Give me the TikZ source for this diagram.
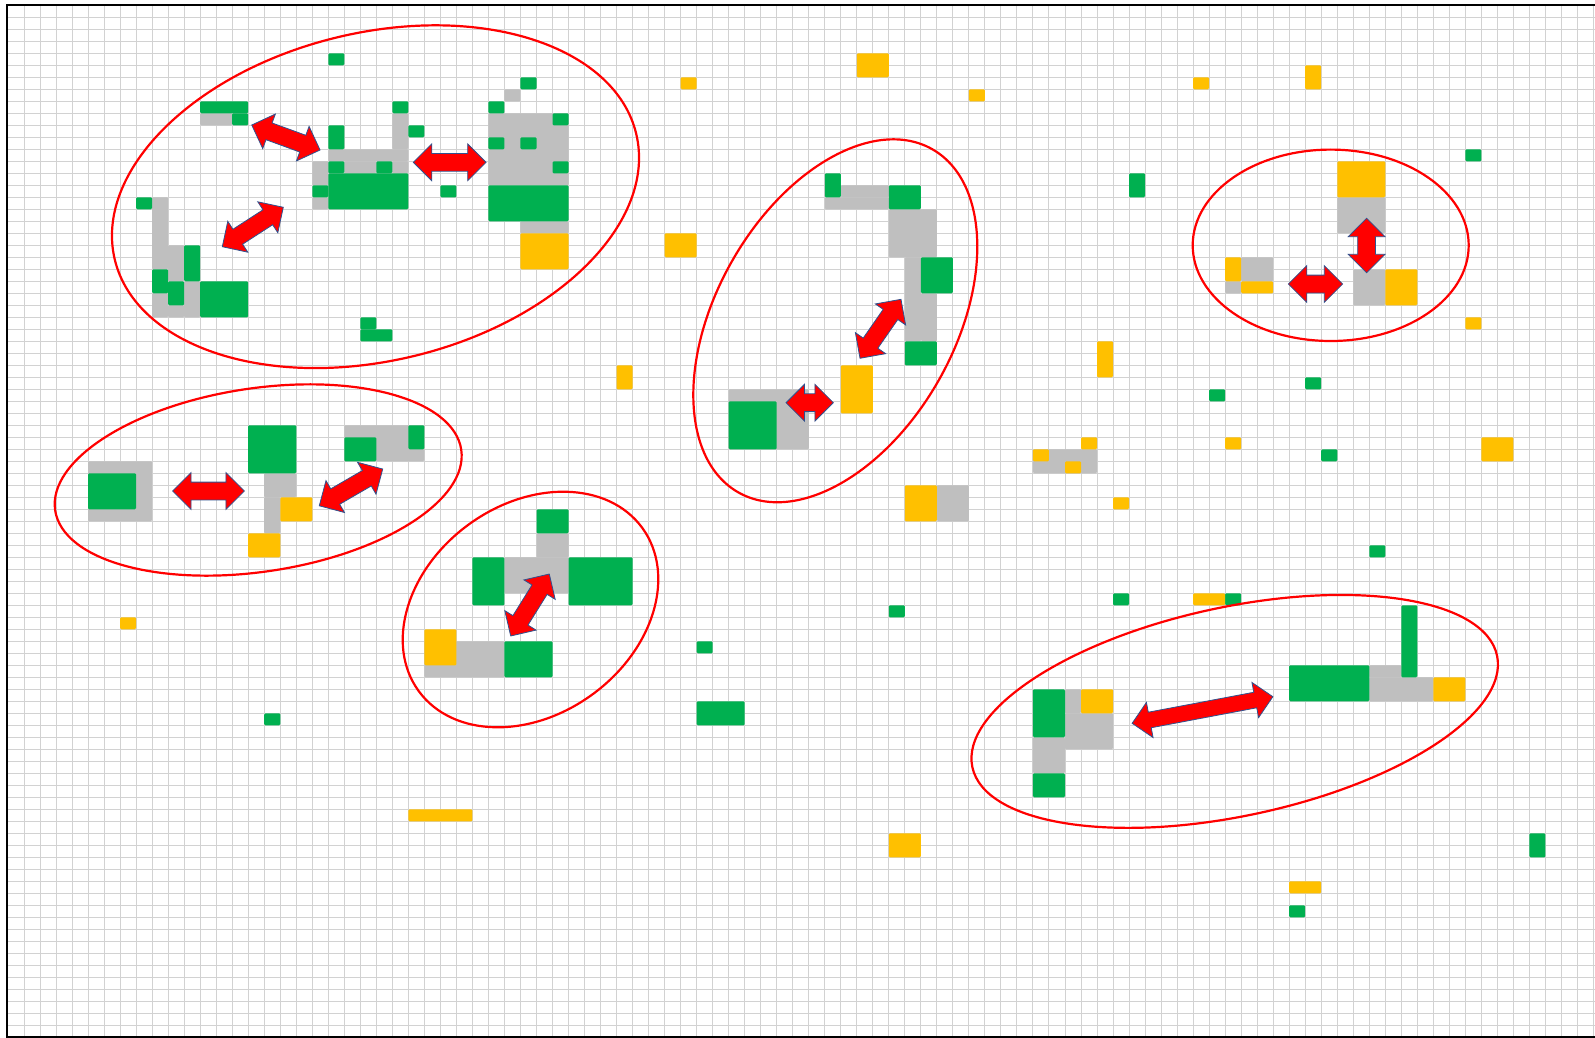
\documentclass[tikz,border=0pt]{standalone}
\usetikzlibrary{shapes.arrows, shapes.geometric}

\definecolor{cellgreen}{RGB}{0,176,80}
\definecolor{cellyellow}{RGB}{255,192,0}
\definecolor{cellgray}{RGB}{191,191,191}
\definecolor{gridc}{RGB}{210,210,210}
\definecolor{ringred}{RGB}{255,0,0}
\definecolor{arrowedge}{RGB}{47,82,143}

\begin{document}
\begin{tikzpicture}[x=1pt, y=-1pt,
        gridline/.style={draw=gridc, line width=1pt},
        gry/.style={fill=cellgray, rounded corners=1.2pt},
        grn/.style={fill=cellgreen, rounded corners=1.2pt},
        ylw/.style={fill=cellyellow, rounded corners=1.2pt},
        ring/.style={ellipse, draw=ringred, line width=2.2pt, inner sep=0pt},
        twoway/.style={double arrow, fill=red, draw=arrowedge, line width=0.8pt,
                       inner xsep=0pt, inner ysep=8.5pt,
                       double arrow head extend=9.5pt, minimum width=36pt},
    ]
    \useasboundingbox (0,0) rectangle (1595,1038);

    % grid
    \foreach \c in {1,...,99}
        \draw[gridline] ({8+16.015*\c},5.3) -- ({8+16.015*\c},1037.3);
    \foreach \r in {1,...,85}
        \draw[gridline] (8,{5.3+12*\r}) -- (1595,{5.3+12*\r});

    % gray cells (col/row/width/height)
    \foreach \c/\r/\w/\h in {12/9/2/1, 9/16/1/6, 10/20/1/3, 11/23/1/3, 9/24/1/2, 10/25/1/1,
            24/9/1/3, 20/12/5/1, 19/13/1/2, 21/13/2/1, 24/13/1/1, 19/16/1/1,
            31/7/1/1, 30/9/5/6, 32/18/3/1,
            5/38/4/5, 16/39/2/2, 16/41/1/3, 21/35/5/3,
            33/44/2/2, 31/46/4/3, 26/53/5/3,
            52/15/3/1, 51/16/4/1, 55/17/3/4, 56/21/1/7, 57/24/1/4, 45/32/5/5, 58/40/2/3,
            83/16/3/3, 84/22/2/3, 77/21/2/2, 76/23/1/1, 64/37/4/2,
            85/55/2/1, 85/56/4/2, 66/57/1/2, 66/59/3/3, 64/61/2/3}
        \fill[gry] ({8+16.015*\c},{5.3+12*\r}) rectangle ++({16.015*\w},{12*\h});

    % green cells
    \foreach \c/\r/\w/\h in {12/8/3/1, 14/9/1/1, 8/16/1/1, 11/20/1/3, 9/22/1/2, 10/23/1/2, 12/23/3/3,
            20/4/1/1, 20/10/1/2, 24/8/1/1, 25/10/1/1, 20/13/1/1, 23/13/1/1, 20/14/5/3, 19/15/1/1, 27/15/1/1,
            32/6/1/1, 30/8/1/1, 34/9/1/1, 30/11/1/1, 32/11/1/1, 34/13/1/1, 30/15/5/3,
            22/26/1/1, 22/27/2/1,
            5/39/3/3, 15/35/3/4, 21/36/2/2, 25/35/1/2,
            33/42/2/2, 29/46/2/4, 35/46/4/4, 31/53/3/3,
            51/14/1/2, 55/15/2/2, 57/21/2/3, 56/28/2/2, 45/33/3/4,
            70/14/1/2, 91/12/1/1, 81/31/1/1, 75/32/1/1, 82/37/1/1, 85/45/1/1, 69/49/1/1, 76/49/1/1,
            55/50/1/1, 43/53/1/1, 43/58/3/2, 16/59/1/1, 95/69/1/2, 80/75/1/1,
            87/50/1/6, 80/55/5/3, 64/57/2/4, 64/64/2/2}
        \fill[grn] ({8+16.015*\c},{5.3+12*\r}) rectangle ++({16.015*\w},{12*\h});

    % yellow cells
    \foreach \c/\r/\w/\h in {32/19/3/3, 17/41/2/2, 15/44/2/2, 26/52/2/3, 52/30/2/4, 56/40/2/3,
            83/13/3/3, 86/22/2/3, 76/21/1/2, 77/23/2/1,
            64/37/1/1, 66/38/1/1, 67/36/1/1, 89/56/2/2, 67/57/2/2,
            42/6/1/1, 53/4/2/2, 60/7/1/1, 41/19/2/2, 38/30/1/2, 74/6/1/1, 81/5/1/2, 91/26/1/1,
            68/28/1/3, 76/36/1/1, 92/36/2/2, 69/41/1/1, 74/49/2/1, 7/51/1/1, 25/67/4/1,
            55/69/2/2, 80/73/2/1}
        \fill[ylw] ({8+16.015*\c},{5.3+12*\r}) rectangle ++({16.015*\w},{12*\h});

    % groups
    \node[ring, minimum width=536.4pt, minimum height=327.8pt, rotate=13.6] (ringA) at (375.5,196.7) {};
    \node[ring, minimum width=410.6pt, minimum height=183.4pt, rotate=8.5] (ringB) at (258.2,480) {};
    \node[ring, minimum width=276.8pt, minimum height=210.2pt, rotate=36.2] (ringC) at (530.5,609.5) {};
    \node[ring, minimum width=394.2pt, minimum height=238.6pt, rotate=60.6] (ringD) at (835.3,320.8) {};
    \node[ring, minimum width=276pt, minimum height=191.4pt] (ringE) at (1330.7,245.3) {};
    \node[ring, minimum width=536.4pt, minimum height=209pt, rotate=12] (ringF) at (1234.7,711.4) {};

    % links
    \node[twoway, minimum height=72.7pt, rotate=-20.1] (arrA) at (285.9,137.5) {};
    \node[twoway, minimum height=72.7pt] (arrB) at (449.7,162.3) {};
    \node[twoway, minimum height=72.6pt, rotate=32.9] (arrC) at (252.8,227) {};
    \node[twoway, minimum height=71.7pt] (arrD) at (208.5,491) {};
    \node[twoway, minimum height=73.3pt, rotate=30.1] (arrE) at (351,487.4) {};
    \node[twoway, minimum height=73pt, rotate=58.1] (arrF) at (530,605) {};
    \node[twoway, minimum height=71.8pt, rotate=55.2] (arrG) at (880.5,328.8) {};
    \node[twoway, minimum height=47.3pt] (arrH) at (809.7,402.7) {};
    \node[twoway, minimum height=54.3pt] (arrI) at (1315.5,284) {};
    \node[twoway, minimum height=54.4pt, rotate=90] (arrJ) at (1366.6,245.5) {};
    \node[twoway, minimum height=143.2pt, rotate=10.7, inner ysep=7.5pt,
          double arrow head extend=10pt, minimum width=35pt] (arrK) at (1202.5,710) {};

    % frame
    \draw[line width=2pt] (1595,5) -- (7,5) -- (7,1037) -- (1595,1037);
\end{tikzpicture}
\end{document}
